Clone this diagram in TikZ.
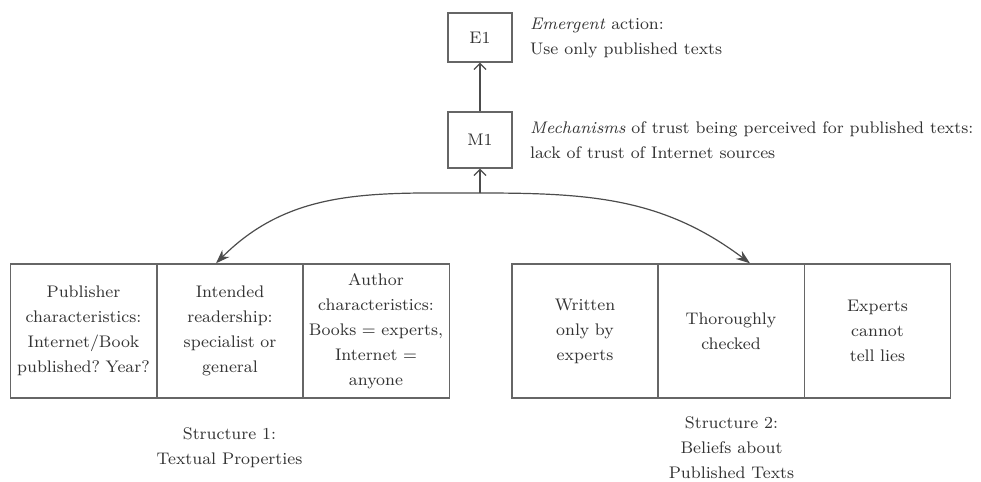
\documentclass[tikz,border=0pt]{standalone}
\usetikzlibrary{arrows.meta}
\frenchspacing

\begin{document}
\begin{tikzpicture}[x=0.5pt,y=-0.5pt,
    every node/.style={text=black!80, font=\fontsize{8.4}{12.5}\selectfont},
    box/.style={draw=black!60, line width=0.7pt, minimum width=32pt, minimum height=24.5pt, inner sep=0pt},
    cell/.style={draw=black!60, line width=0.7pt, minimum width=73.2pt, minimum height=67pt, text width=72pt, align=center, inner sep=0pt},
    link/.style={draw=black!70, line width=0.6pt},
    openhead/.style={-{Straight Barb[length=3pt,width=6pt]}},
    fullhead/.style={-{Stealth[length=7pt,width=5pt]}}]
    \useasboundingbox (0,0) rectangle (981,482);

    \coordinate (top) at (480,193);

    \node [box] (E1) at (480,37.5) {E1};
    \node [box, minimum height=28pt] (M1) at (480,140) {M1};

    \node [anchor=west, align=left] (emergent) at (523,38.5) {\textit{Emergent} action:\\Use only published texts};
    \node [anchor=west, align=left] (mechanisms) at (523,140.5) {\textit{Mechanisms} of trust being perceived for published texts:\\lack of trust of Internet sources};

    % structure 1
    \node [cell] (publisher) at (83.5,331) {Publisher\\characteristics:\\Internet/Book\\published? Year?};
    \node [cell] (readership) at (230,331) {Intended\\readership:\\specialist or\\general};
    \node [cell] (author) at (376,331) {Author\\characteristics:\\Books = experts,\\Internet =\\anyone};

    % structure 2
    \node [cell] (experts) at (585,331) {Written\\only by\\experts};
    \node [cell] (checked) at (731,331) {Thoroughly\\checked};
    \node [cell] (lies) at (877.5,331) {Experts\\cannot\\tell lies};

    \node [align=center] (struct1) at (229.5,448) {Structure 1:\\Textual Properties};
    \node [align=center] (struct2) at (731.5,447.5) {Structure 2:\\Beliefs about\\Published Texts};

    \draw [link, openhead] (M1) -- (E1);
    \draw [link, openhead] (top) -- (M1);
    \draw [link, fullhead] (top) to[out=180, in=45] ([xshift=-7pt]readership.north);
    \draw [link, fullhead] (top) to[out=0, in=143] ([xshift=9.5pt]checked.north);
\end{tikzpicture}
\end{document}
